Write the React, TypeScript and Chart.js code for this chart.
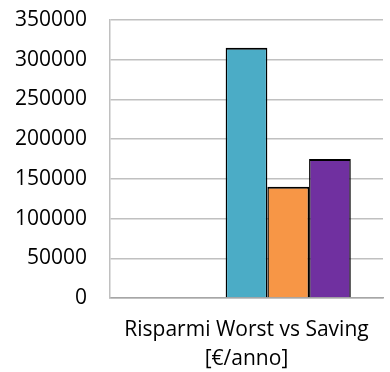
import React, { useEffect, useRef } from "react";
import { Chart, registerables } from "chart.js";

Chart.register(...registerables);

const categories: (string | string[])[] = [["Risparmi Worst vs Saving", "[€/anno]"]];
const seriesA: (number | null)[] = [null];
const seriesB: (number | null)[] = [null];
const seriesC: number[] = [315000];
const seriesD: number[] = [140000];
const seriesE: number[] = [175000];
const yTicks: number[] = [0, 50000, 100000, 150000, 200000, 250000, 300000, 350000];

const FONT = "'Open Sans', sans-serif";

export default function App() {
  const ref = useRef<HTMLCanvasElement | null>(null);
  useEffect(() => {
    if (!ref.current) return;
    const mk = (data: (number | null)[], color: string) => ({
      data,
      backgroundColor: color,
      borderColor: "#000000",
      borderWidth: { top: 2, left: 1.5, right: 1.5, bottom: 0 },
      borderSkipped: false as const,
      barPercentage: 1,
      categoryPercentage: 0.764,
    });
    const chart = new Chart(ref.current, {
      type: "bar",
      data: {
        labels: categories,
        datasets: [
          mk(seriesA, "#4F81BD"),
          mk(seriesB, "#C0504D"),
          mk(seriesC, "#4BACC6"),
          mk(seriesD, "#F79646"),
          mk(seriesE, "#7030A0"),
        ],
      },
      options: {
        animation: false,
        responsive: false,
        layout: { padding: { top: 20, right: 7, left: 0, bottom: 0 } },
        plugins: { legend: { display: false }, tooltip: { enabled: false } },
        scales: {
          x: {
            grid: { display: false, drawTicks: false },
            border: { display: true, color: "#A6A6A6", width: 1.5 },
            ticks: {
              color: "#000000",
              font: { family: FONT, size: 21, lineHeight: 1.35 },
              padding: 18,
              maxRotation: 0,
              autoSkip: false,
            },
            afterFit: (s: any) => {
              s.height = 74;
              s.paddingLeft = 0;
              s.paddingRight = 0;
            },
          },
          y: {
            min: 0,
            max: 350000,
            afterBuildTicks: (s: any) => {
              s.ticks = yTicks.map((v) => ({ value: v }));
            },
            grid: { color: "#C0C0C0", lineWidth: 1.5, drawTicks: false },
            border: { display: true, color: "#C0C0C0", width: 1.5 },
            ticks: {
              color: "#000000",
              font: { family: FONT, size: 21 },
              padding: 23,
              callback: (v: any) => String(v),
            },
            afterFit: (s: any) => {
              s.width = 110;
              s.paddingTop = 0;
              s.paddingBottom = 0;
            },
          },
        },
      },
    });
    return () => chart.destroy();
  }, []);
  return (
    <div style={{ position: "fixed", left: 0, top: 0, width: 390, height: 372, background: "#fff" }}>
      <canvas ref={ref} width={390} height={372} />
    </div>
  );
}
